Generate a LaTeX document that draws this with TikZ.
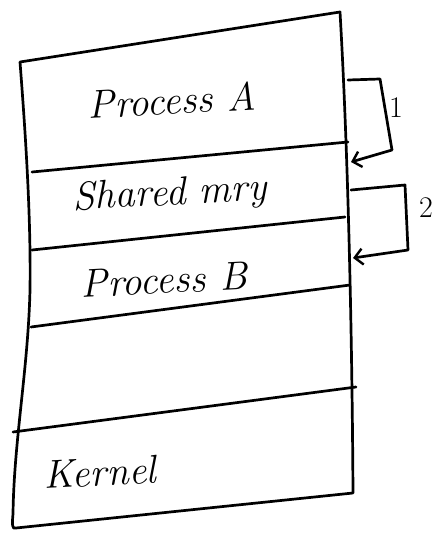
\documentclass[tikz,border=0pt]{standalone}
\usepackage{fontspec}
\usetikzlibrary{arrows.meta}
\begin{document}
\begin{tikzpicture}[x=1pt,y=-1pt,
  line width=2.7pt, line join=round, line cap=round,
  lbl/.style={font=\fontsize{40}{46}\selectfont\itshape, inner sep=0pt, rotate=3},
  num/.style={font=\fontsize{30}{34}\selectfont, inner sep=0pt},
  link/.style={-{Straight Barb[length=8pt,width=16pt,line width=2.4pt]}}]
\useasboundingbox (0,0) rectangle (438,537);
\fill[white] (0,0) rectangle (438,537);
% outer box
\draw (20,62) -- (340,12)
  .. controls (348,150) and (352,330) .. (353,493)
  -- (16,528) .. controls (12,530) and (12,524) .. (13,514)
  .. controls (14,440) and (28,370) .. (30,290)
  .. controls (31,220) and (26,140) .. (20,62);
% dividers
\draw (32,172) -- (348,142);
\draw (32,250) -- (345,217);
\draw (31,327) -- (350,285);
\draw (13,432) -- (356,387);
% labels
\node[lbl] (pa) at (172,100) {Process A};
\node[lbl] (sm) at (170,195) {Shared mry};
\node[lbl] (pb) at (164,280) {Process B};
\node[lbl] (kn) at (100,472) {Kernel};
% connectors
\coordinate (a1s) at (348,80);
\coordinate (a1e) at (351,162);
\coordinate (a2s) at (351,190);
\coordinate (a2e) at (353,258);
\draw[link] (a1s) -- (380,79) -- (392,150) -- (a1e);
\draw[link] (a2s) -- (405,185) -- (408,250) -- (a2e);
\node[num] (n1) at (396,108) {1};
\node[num] (n2) at (426,208) {2};
\end{tikzpicture}
\end{document}
